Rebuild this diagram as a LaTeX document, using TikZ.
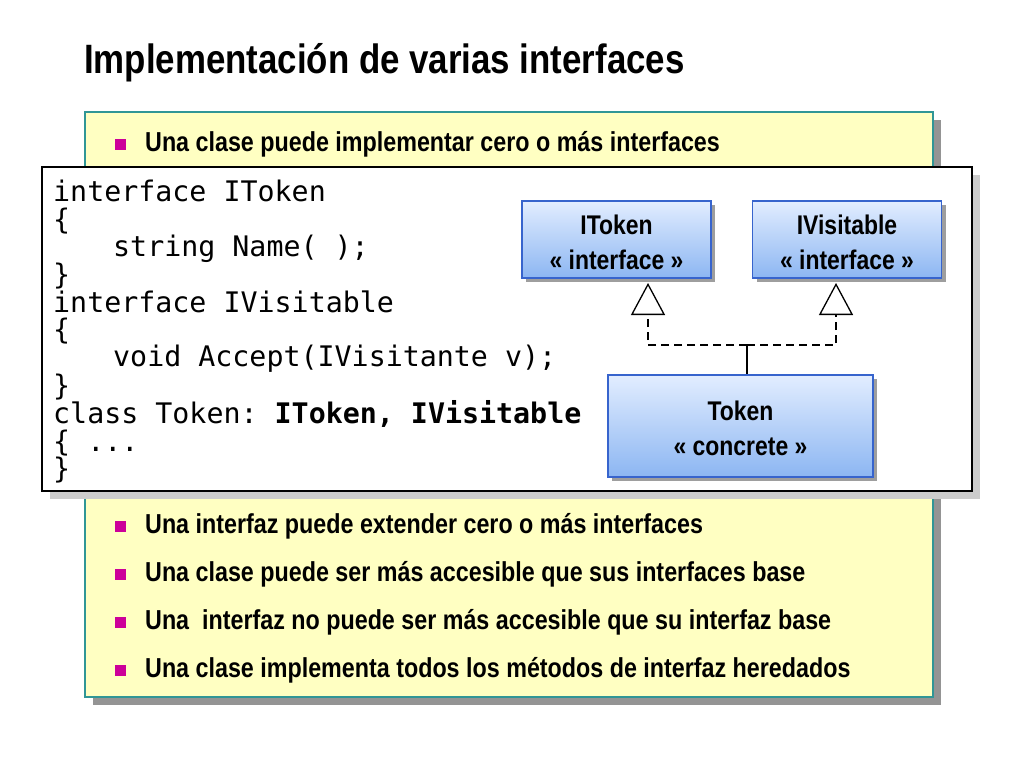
\documentclass[tikz,border=0pt]{standalone}
\usepackage{fontspec}
\usepackage{xcolor}
\setmainfont{Liberation Sans}
\newfontfamily\narrowfont{Liberation Sans}[FakeStretch=0.85]
\setmonofont{DejaVu Sans Mono}
\usetikzlibrary{arrows.meta}
\usetikzlibrary{shadows}
\definecolor{panelfill}{RGB}{255,255,194}
\definecolor{panelline}{RGB}{48,150,150}
\definecolor{bulletc}{RGB}{204,0,153}
\definecolor{boxtop}{RGB}{226,237,255}
\definecolor{boxbot}{RGB}{140,182,242}
\definecolor{boxline}{RGB}{55,100,205}
\tikzset{
  font={\narrowfont\bfseries\fontsize{27.4}{35}\selectfont}}

\begin{document}
\begin{tikzpicture}[x=1pt, y=-1pt]

        \tikzset{umlbox/.style = {draw=boxline, line width=1.2pt, top color=boxtop, bottom color=boxbot,
                   align=center, inner sep=0pt, font={\narrowfont\bfseries\fontsize{27}{35}\selectfont},
                   drop shadow={shadow xshift=4pt, shadow yshift=-4pt, fill=black!38, opacity=1}},
                 realize/.style = {line width=2pt, dash pattern=on 8pt off 5pt,
                   -{Triangle[open, length=32pt, width=34pt, line width=1.3pt]}},
                 bul/.style = {fill=bulletc, minimum size=11pt, inner sep=0pt, anchor=south west}}

        \useasboundingbox (0,0) rectangle (1024,768);

        % title
        \node[anchor=base west, inner sep=0pt, font={\narrowfont\bfseries\fontsize{41}{45}\selectfont}] (title)
            at (84,74) {Implementación de varias interfaces};

        % panels
        \path[fill=panelfill, draw=panelline, line width=1.2pt,
              drop shadow={shadow xshift=8pt, shadow yshift=-8pt, fill=black!42, opacity=1}]
            (85,112) rectangle (933,697);
        \foreach \y/\txt [count=\i] in {151/{Una clase puede implementar cero o más interfaces},
                                        533/{Una interfaz puede extender cero o más interfaces},
                                        581/{Una clase puede ser más accesible que sus interfaces base},
                                        629/{Una~ interfaz no puede ser más accesible que su interfaz base},
                                        677/{Una clase implementa todos los métodos de interfaz heredados}}{
            \node[bul] (b\i) at (115,\y-1) {};
            \node[anchor=base west, inner sep=0pt] (t\i) at (145,\y) {\txt};
        }
        \path[fill=white, draw=black, line width=1.3pt,
              drop shadow={shadow xshift=8pt, shadow yshift=-8pt, fill=black!20, opacity=1}]
            (42,167) rectangle (972,491);

        % code
        \node[anchor=north west, inner sep=0pt, align=left,
              font={\ttfamily\mdseries\fontsize{28.3}{27.3}\selectfont}] (code) at (53,180) {%
            interface IToken\\
            \{\\
            \hspace*{60pt}string Name( );\\
            \}\\
            interface IVisitable\\
            \{\\
            \hspace*{60pt}void Accept(IVisitante v);\\
            \}\\
            class Token: \textbf{IToken, IVisitable}\\
            \{ ...\\
            \}};

        % vertices
        \node[umlbox, minimum width=189pt, minimum height=77pt] (itok) at (616.5,239.5) {\strut IToken\\« interface »};
        \node[umlbox, minimum width=189pt, minimum height=77pt] (ivis) at (847,239.5) {\strut IVisitable\\« interface »};
        \node[umlbox, minimum width=265pt, minimum height=102pt] (tok) at (740.5,426) {\strut Token\\« concrete »};
        \coordinate (jn) at (747,345);
        \coordinate (tipA) at (648,283);
        \coordinate (tipB) at (836,283);

        %edges
        \draw[line width=1.8pt] (jn) -- (jn |- tok.north);
        \draw[realize] (jn) -| (tipA);
        \draw[realize] (jn) -| (tipB);

\end{tikzpicture}
\end{document}
